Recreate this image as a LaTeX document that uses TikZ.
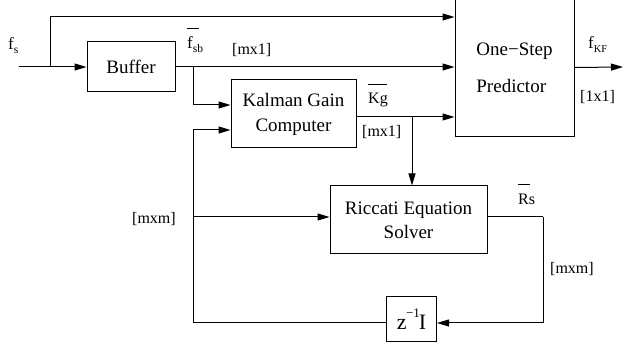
\documentclass[tikz,border=0pt]{standalone}
\usepackage{fontspec}
\setmainfont{Liberation Serif}
\usetikzlibrary{arrows.meta,calc}
\newcommand{\barover}[3]{\makebox[0pt][l]{\hspace*{#1}\rule[#2]{#3}{0.8pt}}}
\newcommand{\lowsub}[1]{\raisebox{-4pt}{\fontsize{11.5}{12}\selectfont #1}}
\begin{document}
\begin{tikzpicture}[x=1pt,y=-1pt,
  blk/.style={draw, line width=1pt, inner sep=0pt, font=\fontsize{19}{24}\selectfont, align=center},
  lbl/.style={font=\fontsize{16}{19}\selectfont, inner sep=0pt},
  flbl/.style={font=\fontsize{17}{19}\selectfont, inner sep=0pt},
  wire/.style={line width=1pt},
  conn/.style={line width=1pt, -{Triangle[length=12pt,width=7pt]}}]
\useasboundingbox (0,0) rectangle (635,347);
% blocks
\node[blk, minimum width=88pt, minimum height=50pt] (buf) at (131,67) {Buffer};
\node[blk, minimum width=125pt, minimum height=68pt] (kal) at (293.5,114) {Kalman Gain\\[1pt]Computer};
\node[blk, minimum width=119pt, minimum height=139pt, align=left, font=\fontsize{19}{37}\selectfont] (pred) at (514.5,67.5) {One−Step\\Predictor};
\node[blk, minimum width=157pt, minimum height=68pt] (ric) at (408.5,220) {Riccati Equation\\Solver};
\node[blk, minimum width=50pt, minimum height=45pt, font=\fontsize{22}{24}\selectfont] (zi) at (411.5,319.5) {z\kern-0.5pt\raisebox{12pt}{\fontsize{13}{13}\selectfont −1}\kern-1pt I};
% coordinates
\coordinate (in) at (19,67);
\coordinate (b1) at (50,67);
\coordinate (b2) at (193,67);
\coordinate (b3) at (412,117);
\coordinate (b4) at (193,217);
\coordinate (c1) at (543,217);
\coordinate (c2) at (193,323);
\coordinate (out) at (623,67);
% connectors
\draw[conn] (in) -- (buf.west);
\draw[conn] (b1) |- (pred.west |- 0,17);
\draw[conn] (buf.east) -- (pred.west |- buf.east);
\draw[conn] (b2) |- (kal.west |- 0,105);
\draw[conn] (kal.east |- b3) -- (pred.west |- b3);
\draw[conn] (b3) -- (ric.north -| b3);
\draw[wire] (ric.east |- c1) -- (c1);
\draw[conn] (c1) |- (zi.east |- 0,323);
\draw[wire] (zi.west |- c2) -- (c2);
\draw[conn] (c2) |- (kal.west |- 0,130);
\draw[conn] (b4) -- (ric.west |- b4);
\draw[conn] (pred.east) -- (out);
% labels
\node[flbl, anchor=base west] (lfs) at (8,50) {f\lowsub{s}};
\node[flbl, anchor=base west] (lfsb) at (187,49) {\barover{0pt}{20pt}{12pt}f\lowsub{sb}};
\node[lbl, anchor=base west] (lmx1a) at (232,55) {[mx1]};
\node[lbl, anchor=base west] (lkg) at (368,104) {\barover{0pt}{19pt}{19pt}Kg};
\node[lbl, anchor=base west] (lmx1b) at (362,137) {[mx1]};
\node[flbl, anchor=base west] (lfkf) at (588,49) {f\lowsub{\fontsize{10.5}{11}\selectfont KF}};
\node[lbl, anchor=base west] (l1x1) at (580,102) {[1x1]};
\node[lbl, anchor=base west] (lmxma) at (132,224) {[mxm]};
\node[lbl, anchor=base west] (lrs) at (518,205) {\barover{0pt}{20pt}{12pt}Rs};
\node[lbl, anchor=base west] (lmxmb) at (550,274) {[mxm]};
\end{tikzpicture}
\end{document}
